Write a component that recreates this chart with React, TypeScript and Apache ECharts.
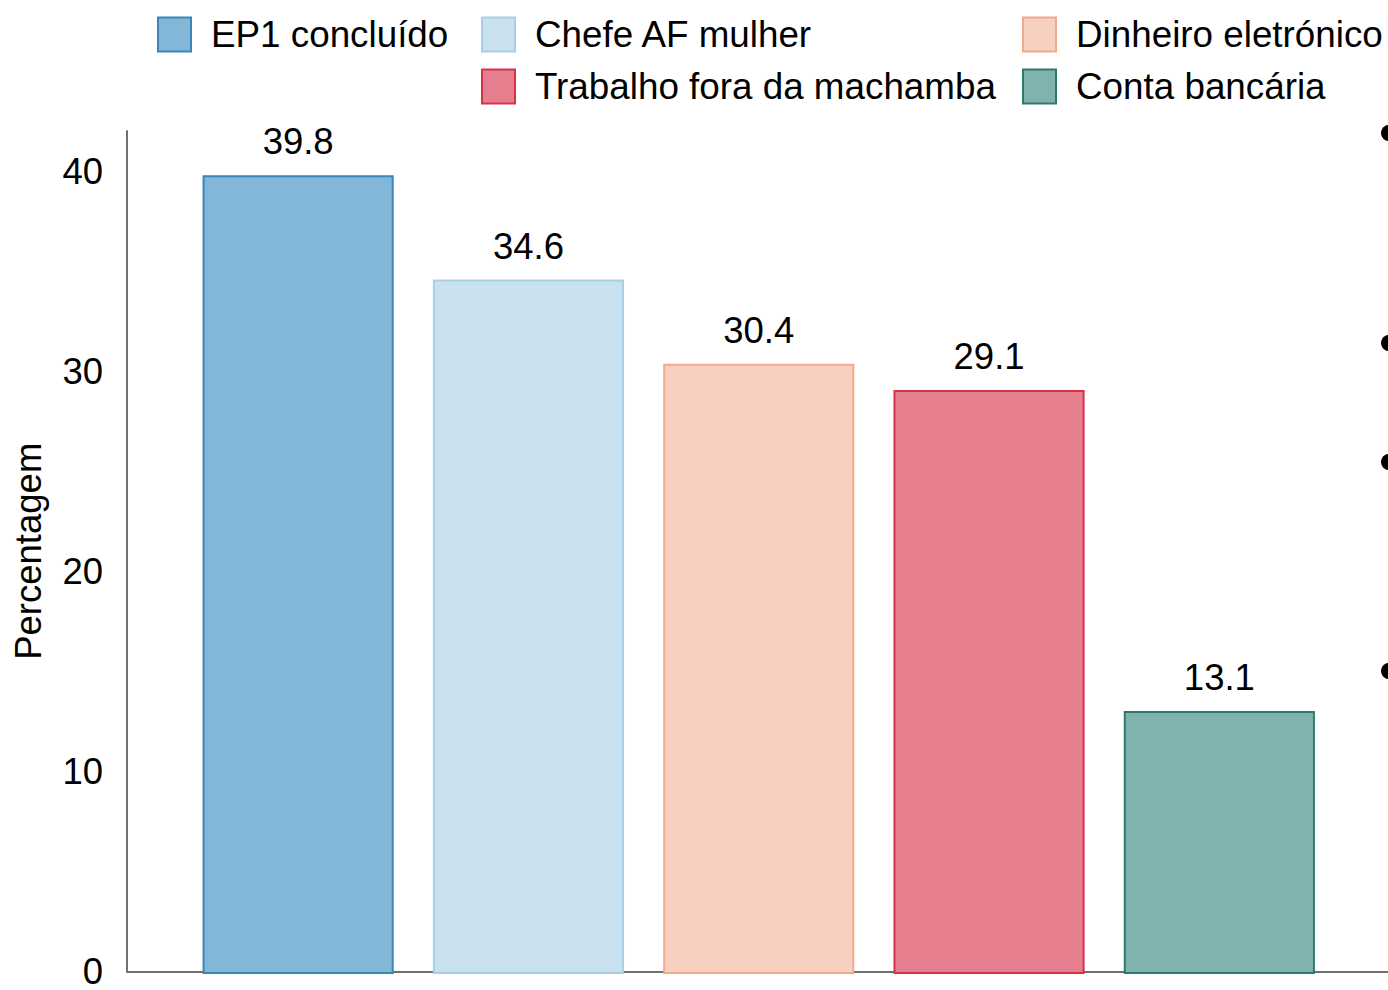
import React, { useEffect, useRef } from "react";
import * as echarts from "echarts";

const categories = [
  "EP1 concluído",
  "Chefe AF mulher",
  "Dinheiro eletrónico",
  "Trabalho fora da machamba",
  "Conta bancária",
];
const values = [39.8, 34.6, 30.4, 29.1, 13.1];
const fillColors = ["#82B7D8", "#C9E1EF", "#F8D0C0", "#E57F8E", "#80B2AE"];
const borderColors = ["#3A86B9", "#A7CFE6", "#F4A98C", "#D6324C", "#2C7B70"];
const yMin = 0;
const yMax = 42;
const yInterval = 10;
const legendSlots = [
  { left: 157, top: 16 },
  { left: 481, top: 16 },
  { left: 1022, top: 16 },
  { left: 481, top: 68 },
  { left: 1022, top: 68 },
];
const dotYs = [133, 343, 462, 671];

const FONT = "'Liberation Sans', Arial, sans-serif";

export default function App() {
  const ref = useRef<HTMLDivElement>(null);
  useEffect(() => {
    if (!ref.current) return;
    const chart = echarts.init(ref.current, null, { renderer: "svg" });
    const option: any = {
      animation: false,
      backgroundColor: "#ffffff",
      textStyle: { fontFamily: FONT },
      legend: categories.map((name, i) => ({
        data: [name],
        left: legendSlots[i].left,
        top: legendSlots[i].top,
        padding: 0,
        icon: "rect",
        itemWidth: 33,
        itemHeight: 34,
        selectedMode: false,
        itemStyle: { borderColor: "inherit", borderWidth: 2 },
        textStyle: {
          fontSize: 36.8,
          color: "#000",
          fontFamily: FONT,
          lineHeight: 36,
          padding: [0, 0, 0, 15],
        },
      })),
      grid: [
        { left: 127, right: 0, top: 131, bottom: 16 },
        { left: 183, right: 53.5, top: 131, bottom: 16 },
      ],
      xAxis: [
        {
          type: "value",
          gridIndex: 0,
          min: 0,
          max: 1,
          axisLine: { show: true, lineStyle: { color: "#707070", width: 2 } },
          axisTick: { show: false },
          axisLabel: { show: false },
          splitLine: { show: false },
        },
        {
          type: "category",
          gridIndex: 1,
          data: categories,
          show: false,
        },
      ],
      yAxis: [
        {
          type: "value",
          gridIndex: 0,
          min: yMin,
          max: yMax,
          interval: yInterval,
          name: "Percentagem",
          nameLocation: "middle",
          nameGap: 80,
          nameTextStyle: { fontSize: 36.5, color: "#000", fontFamily: FONT },
          axisLine: { show: true, lineStyle: { color: "#707070", width: 2 } },
          axisTick: { show: false },
          splitLine: { show: false },
          axisLabel: {
            fontSize: 36.5,
            color: "#000",
            margin: 24,
            fontFamily: FONT,
            formatter: (v: number) => (v % yInterval === 0 ? String(v) : ""),
          },
        },
        {
          type: "value",
          gridIndex: 1,
          min: yMin,
          max: yMax,
          show: false,
          splitLine: { show: false },
        },
      ],
      series: categories.map((name, i) => ({
        type: "bar",
        name,
        xAxisIndex: 1,
        yAxisIndex: 1,
        stack: "all",
        barWidth: "83%",
        data: values.map((v, j) => (j === i ? v : null)),
        itemStyle: {
          color: fillColors[i],
          borderColor: borderColors[i],
          borderWidth: 2,
        },
        label: {
          show: true,
          position: "top",
          distance: 15,
          fontSize: 36.5,
          color: "#000",
          fontFamily: FONT,
          formatter: (p: any) => (p.value == null ? "" : Number(p.value).toFixed(1)),
        },
      })),
      graphic: dotYs.map((y) => ({
        type: "circle",
        shape: { cx: 1389, cy: y, r: 8 },
        style: { fill: "#000" },
      })),
    };
    chart.setOption(option);
    return () => chart.dispose();
  }, []);
  return (
    <div
      ref={ref}
      style={{ position: "absolute", left: 0, top: 0, width: 1388, height: 990 }}
    />
  );
}
